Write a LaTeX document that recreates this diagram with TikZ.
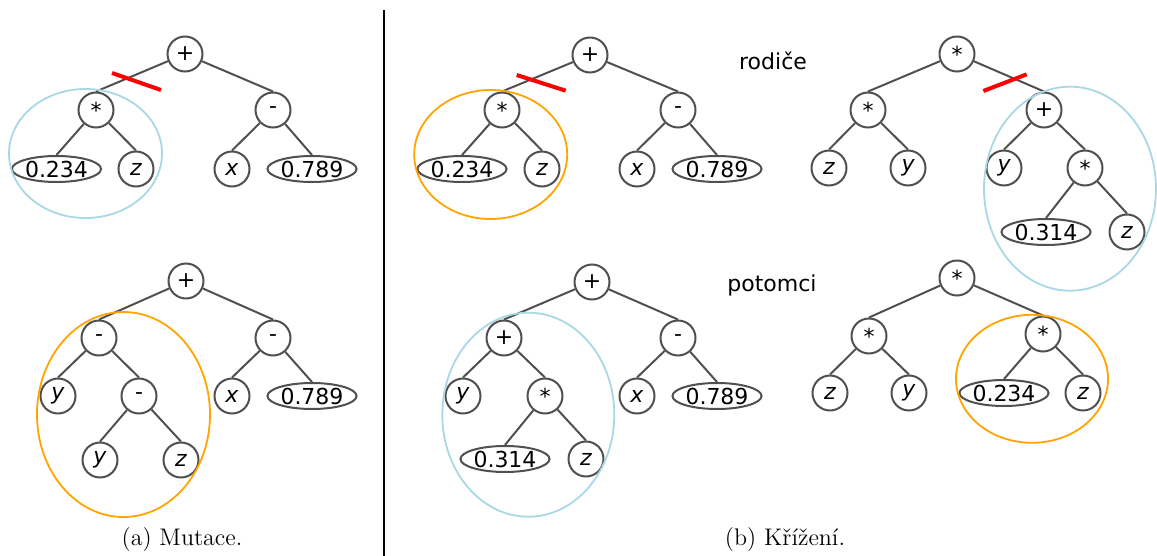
\documentclass[tikz,border=0pt]{standalone}
\usepackage{fontspec}
\usepackage{xcolor}
\usetikzlibrary{shapes.geometric}
\newfontfamily\treefont{DejaVu Sans}
\definecolor{edgegray}{HTML}{505050}
\definecolor{subblue}{HTML}{A8D8E6}
\definecolor{suborange}{HTML}{FFA500}

\begin{document}
\begin{tikzpicture}[
    x=0.5pt, y=-0.5pt,
    font=\treefont\fontsize{11}{13}\selectfont,
    line width=1pt,
    op/.style={circle, draw=edgegray, minimum size=17.5pt, inner sep=0pt},
    var/.style={op, font=\treefont\itshape\fontsize{11}{13}\selectfont},
    num/.style={ellipse, draw=edgegray, minimum width=41.5pt, minimum height=13pt, inner sep=0pt},
    edge/.style={draw=edgegray, line width=1pt},
    cut/.style={draw=red, line width=2pt},
    hlblue/.style={ellipse, draw=subblue, line width=0.9pt, inner sep=0pt},
    hlorange/.style={ellipse, draw=suborange, line width=0.9pt, inner sep=0pt},
    captext/.style={font=\normalfont\fontsize{12}{14}\selectfont}
]
\useasboundingbox (0,0) rectangle (1157,556);

% (a) mutation: original tree
\node[op]  (m0) at (185,54)   {+};
\node[op]  (m1) at (96,110)   {*};
\node[op]  (m2) at (273,110)  {-};
\node[num] (m3) at (56.5,169) {0.234};
\node[var] (m4) at (136,169)  {z};
\node[var] (m5) at (232,169)  {x};
\node[num] (m6) at (312,169)  {0.789};
\draw[edge] (m0) -- (m1.north) (m0) -- (m2.north)
            (m1) -- (m3.north) (m1) -- (m4.north)
            (m2) -- (m5.north) (m2) -- (m6.north);

% (a) mutation: mutated tree
\node[op]  (n0) at (186,281) {+};
\node[op]  (n1) at (99,338)  {-};
\node[op]  (n2) at (273,338) {-};
\node[var] (n3) at (58,396)  {y};
\node[op]  (n4) at (139,396) {-};
\node[var] (n5) at (232,396) {x};
\node[num] (n6) at (312,396) {0.789};
\node[var] (n7) at (100,460) {y};
\node[var] (n8) at (181,460) {z};
\draw[edge] (n0) -- (n1.north) (n0) -- (n2.north)
            (n1) -- (n3.north) (n1) -- (n4.north)
            (n4) -- (n7.north) (n4) -- (n8.north)
            (n2) -- (n5.north) (n2) -- (n6.north);

% (b) crossover: first parent
\node[op]  (p0) at (590,55)  {+};
\node[op]  (p1) at (502,110) {*};
\node[op]  (p2) at (678,110) {-};
\node[num] (p3) at (462,169) {0.234};
\node[var] (p4) at (542,169) {z};
\node[var] (p5) at (637,169) {x};
\node[num] (p6) at (717,169) {0.789};
\draw[edge] (p0) -- (p1.north) (p0) -- (p2.north)
            (p1) -- (p3.north) (p1) -- (p4.north)
            (p2) -- (p5.north) (p2) -- (p6.north);

% (b) crossover: second parent
\node[op]  (q0) at (957,54)   {*};
\node[op]  (q1) at (868,110)  {*};
\node[op]  (q2) at (1044,110) {+};
\node[var] (q3) at (829,168)  {z};
\node[var] (q4) at (908,168)  {y};
\node[var] (q5) at (1004,168) {y};
\node[op]  (q6) at (1085,168) {*};
\node[num] (q7) at (1046,232) {0.314};
\node[var] (q8) at (1127,232) {z};
\draw[edge] (q0) -- (q1.north) (q0) -- (q2.north)
            (q1) -- (q3.north) (q1) -- (q4.north)
            (q2) -- (q5.north) (q2) -- (q6.north)
            (q6) -- (q7.north) (q6) -- (q8.north);

% (b) crossover: first child
\node[op]  (c0) at (592,282) {+};
\node[op]  (c1) at (504,338) {+};
\node[op]  (c2) at (678,338) {-};
\node[var] (c3) at (463,396) {y};
\node[op]  (c4) at (545,396) {*};
\node[var] (c5) at (637,396) {x};
\node[num] (c6) at (717,396) {0.789};
\node[num] (c7) at (505,459) {0.314};
\node[var] (c8) at (586,459) {z};
\draw[edge] (c0) -- (c1.north) (c0) -- (c2.north)
            (c1) -- (c3.north) (c1) -- (c4.north)
            (c4) -- (c7.north) (c4) -- (c8.north)
            (c2) -- (c5.north) (c2) -- (c6.north);

% (b) crossover: second child
\node[op]  (d0) at (957,278)  {*};
\node[op]  (d1) at (869,336)  {*};
\node[op]  (d2) at (1043,334) {*};
\node[var] (d3) at (830,393)  {z};
\node[var] (d4) at (909,393)  {y};
\node[num] (d5) at (1004,393) {0.234};
\node[var] (d6) at (1083,393) {z};
\draw[edge] (d0) -- (d1.north) (d0) -- (d2.north)
            (d1) -- (d3.north) (d1) -- (d4.north)
            (d2) -- (d5.north) (d2) -- (d6.north);

% highlighted subtrees
\node[hlblue,   minimum width=76.5pt, minimum height=64.5pt]  (hm) at (85.5,153.5)  {};
\node[hlorange, minimum width=86.5pt, minimum height=102.5pt] (hn) at (123.5,414.5) {};
\node[hlorange, minimum width=76.5pt, minimum height=64.5pt]  (hp) at (490.7,154.5) {};
\node[hlblue,   minimum width=86pt,   minimum height=102pt]   (hq) at (1070,188.7)  {};
\node[hlblue,   minimum width=86pt,   minimum height=102pt]   (hc) at (528.3,414.7) {};
\node[hlorange, minimum width=76pt,   minimum height=64pt]    (hd) at (1032,378.8)  {};

% cut points
\draw[cut] (112,73) -- (161,90);
\draw[cut] (516.7,75) -- (565.7,90.7);
\draw[cut] (983.3,91) -- (1026.7,74.3);

% labels
\node (parents) at (773,61)  {rodiče};
\node (offspring) at (772,285) {potomci};
\node[captext] (capA) at (182,540) {(a) Mutace.};
\node[captext] (capB) at (785,540) {(b) Křížení.};

% separator
\draw[line width=0.8pt] (384,10) -- (384,556);
\end{tikzpicture}
\end{document}
